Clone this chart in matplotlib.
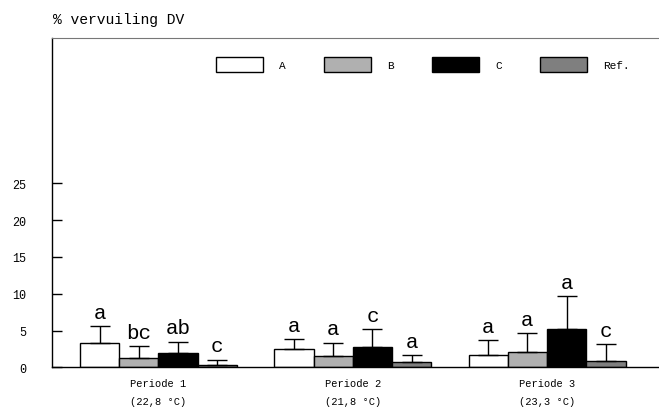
import numpy as np
import matplotlib
matplotlib.use('Agg')
import matplotlib.pyplot as plt

plt.rcParams['font.family'] = ['Liberation Mono', 'DejaVu Sans']

periods = ['Periode 1\n(22,8 °C)', 'Periode 2\n(21,8 °C)', 'Periode 3\n(23,3 °C)']
series = ['A', 'B', 'C', 'Ref.']
colors = ['white', '#b0b0b0', 'black', '#7f7f7f']

means = {
    'A':    [3.3, 2.45, 1.7],
    'B':    [1.3, 1.6, 2.05],
    'C':    [1.95, 2.7, 5.2],
    'Ref.': [0.3, 0.75, 0.9],
}
errs = {
    'A':    [2.3, 1.4, 2.0],
    'B':    [1.55, 1.75, 2.6],
    'C':    [1.55, 2.45, 4.5],
    'Ref.': [0.75, 0.95, 2.2],
}
letters = {
    'A':    ['a', 'a', 'a'],
    'B':    ['bc', 'a', 'a'],
    'C':    ['ab', 'c', 'a'],
    'Ref.': ['c', 'a', 'c'],
}

fig = plt.figure(figsize=(6.59, 4.10), dpi=100)
ax = fig.add_axes([0.0789, 0.1017, 0.9211, 0.8039])

x = np.arange(len(periods))
w = 0.202
for i, s in enumerate(series):
    pos = x + (i - 1.5) * w
    ax.bar(pos, means[s], w, color=colors[i], edgecolor='black', linewidth=1,
           yerr=[np.zeros(3), errs[s]], capsize=7,
           error_kw=dict(elinewidth=1, capthick=1, ecolor='black'), label=s, zorder=2)
    for p, m, e, t in zip(pos, means[s], errs[s], letters[s]):
        ax.annotate(t, (p, m + e), xytext=(0, 3), textcoords='offset points',
                    ha='center', va='bottom', fontsize=15)

ax.set_xlim(-0.548, 2.576)
ax.set_ylim(0, 44.8)
ax.set_yticks([0, 5, 10, 15, 20, 25])
ax.set_xticks(x)
ax.set_xticklabels(periods, fontsize=7.5, linespacing=1.9)
ax.tick_params(axis='x', length=0, pad=8)
ax.tick_params(axis='y', direction='in', length=7, labelsize=8.5, pad=18.5, width=1)

ax.spines['right'].set_visible(False)
ax.spines['top'].set_color('#777777')
ax.spines['left'].set_linewidth(1)
ax.spines['bottom'].set_linewidth(1)

ax.legend(loc='center left', bbox_to_anchor=(216 / 659, 1 - 65.7 / 410),
          bbox_transform=fig.transFigure, ncol=4, frameon=False, fontsize=8,
          handlelength=4.2, handleheight=1.7, handletextpad=1.5, columnspacing=3.42,
          borderpad=0, borderaxespad=0)

fig.text(53 / 659, 1 - 20 / 410, '% vervuiling DV', fontsize=10.5, va='center', ha='left')

fig.savefig('out.png', dpi=100)
